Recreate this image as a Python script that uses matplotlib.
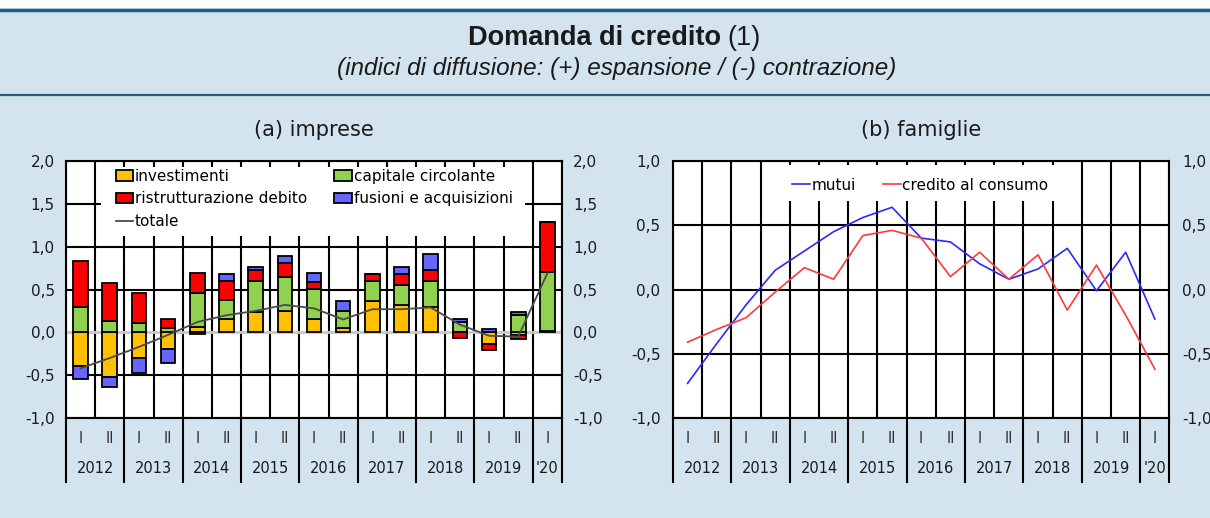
import numpy as np
import matplotlib.pyplot as plt
import matplotlib.transforms as mtransforms
from matplotlib.lines import Line2D
from matplotlib.patches import Patch, Rectangle
from matplotlib.ticker import FuncFormatter

plt.rcParams['font.family'] = ['DejaVu Sans']

semestri = ['I', 'II'] * 8 + ['I']
anni = ['2012', '2013', '2014', '2015', '2016', '2017', '2018', '2019', "'20"]

# (a) imprese
investimenti = [-0.39, -0.52, -0.30, -0.19, 0.06, 0.15, 0.24, 0.25, 0.15,
                0.05, 0.37, 0.32, 0.30, 0.00, -0.14, -0.03, 0.01]
capitale = [0.29, 0.13, 0.11, 0.05, 0.40, 0.23, 0.36, 0.40, 0.36,
            0.20, 0.23, 0.23, 0.30, 0.12, 0.00, 0.20, 0.70]
ristrutturazione = [0.54, 0.45, 0.35, 0.10, 0.23, 0.22, 0.13, 0.16, 0.08,
                    0.00, 0.08, 0.13, 0.13, -0.07, -0.07, -0.05, 0.58]
fusioni = [-0.15, -0.12, -0.18, -0.17, -0.02, 0.08, 0.03, 0.08, 0.10,
           0.12, 0.00, 0.08, 0.18, 0.04, 0.04, 0.04, 0.00]
totale = [-0.42, -0.30, -0.17, -0.03, 0.12, 0.20, 0.25, 0.32, 0.28,
          0.15, 0.27, 0.27, 0.29, 0.09, -0.04, -0.05, 0.69]

# (b) famiglie
mutui = [-0.73, -0.42, -0.12, 0.15, 0.30, 0.45, 0.56, 0.64, 0.40,
         0.37, 0.20, 0.08, 0.16, 0.32, -0.01, 0.29, -0.23]
consumo = [-0.41, -0.31, -0.22, -0.02, 0.17, 0.08, 0.42, 0.46, 0.40,
           0.10, 0.29, 0.08, 0.27, -0.16, 0.19, -0.20, -0.62]

sfondo = '#d3e4ee'
blu_linea = '#22607f'
virgola = FuncFormatter(lambda v, p: f'{v:.1f}'.replace('.', ','))

fig = plt.figure(figsize=(12.1, 5.18), dpi=100, facecolor=sfondo)
W, H = 1210, 518

# header
fig.add_artist(Rectangle((0, 1 - 8 / H), 1, 8 / H, transform=fig.transFigure,
                         color='white', lw=0))
fig.add_artist(Line2D([0, 1], [1 - 9.5 / H] * 2, transform=fig.transFigure,
                      color=blu_linea, lw=2.5))
fig.add_artist(Line2D([0, 1], [1 - 95 / H] * 2, transform=fig.transFigure,
                      color=blu_linea, lw=1.6))
t1 = fig.text(468 / W, 1 - 38 / H, 'Domanda di credito', fontsize=19.5,
              weight='bold', family='Liberation Sans', va='center', color='#1a1a1a')
fig.canvas.draw()
bb = t1.get_window_extent()
fig.text(bb.x1 / W + 6 / W, 1 - 38 / H, '(1)', fontsize=19.5,
         family='Liberation Sans', va='center', color='#1a1a1a')
fig.text(617 / W, 1 - 68 / H,
         '(indici di diffusione: (+) espansione / (-) contrazione)',
         fontsize=17.5, style='italic', family='Liberation Sans',
         ha='center', va='center', color='#1a1a1a')

x = np.arange(len(semestri))


def base_asse(ax, ylim, grigio_zero):
    ax.set_xlim(-0.5, len(semestri) - 0.5)
    ax.set_ylim(*ylim)
    ax.set_facecolor('white')
    yt = np.arange(ylim[0], ylim[1] + 0.01, 0.5)
    ax.set_yticks(yt)
    ax.set_xticks([])
    ax.yaxis.set_major_formatter(virgola)
    ax.tick_params(axis='y', length=0, labelsize=11, colors='#1a1a1a',
                   labelright=True, right=False)
    for b in np.arange(-0.5, len(semestri), 1):
        ax.axvline(b, color='black', lw=1.5, zorder=1)
    for yv in yt:
        if abs(yv) < 1e-9 and grigio_zero:
            ax.axhline(yv, color='#c8c8c8', lw=2, zorder=1)
        else:
            ax.axhline(yv, color='black', lw=1.5, zorder=1)
    for s in ax.spines.values():
        s.set_linewidth(1.5)
    trans = mtransforms.blended_transform_factory(ax.transData, ax.transAxes)
    for xi, s in zip(x, semestri):
        ax.text(xi, -0.08, s, transform=trans, ha='center', va='center',
                fontsize=10.5, color='#333333')
    centri = [i * 2 + 0.5 for i in range(8)] + [16]
    for c, a in zip(centri, anni):
        ax.text(c, -0.195, a, transform=trans, ha='center', va='center',
                fontsize=10.5, color='#1a1a1a')
    for b in list(np.arange(-0.5, 16, 2)) + [16.5]:
        ax.plot([b, b], [0, -0.25], transform=trans, color='black', lw=1.5,
                clip_on=False)


# (a) imprese
ax1 = fig.add_axes([66 / W, 1 - 418 / H, 496 / W, 257 / H])
base_asse(ax1, (-1.0, 2.0), True)
ax1.yaxis.set_tick_params(which='major', pad=8)
ax1.text(0.5, 1.12, '(a) imprese', transform=ax1.transAxes, ha='center',
         va='center', fontsize=15, color='#1a1a1a')

serie = [investimenti, capitale, ristrutturazione, fusioni]
colori = ['#ffc000', '#92d050', '#ff0000', '#6666ff']
nomi = ['investimenti', 'capitale circolante', 'ristrutturazione debito',
        'fusioni e acquisizioni']
pos = np.zeros(len(x))
neg = np.zeros(len(x))
for vals, col in zip(serie, colori):
    v = np.array(vals)
    base = np.where(v >= 0, pos, neg)
    ax1.bar(x, v, 0.5, bottom=base, color=col, edgecolor='black', lw=1.3,
            zorder=3)
    pos += np.clip(v, 0, None)
    neg += np.clip(v, None, 0)
ax1.plot(x, totale, color='#4a4a4a', lw=1.3, zorder=4)

ax1.add_patch(Rectangle((0.07, 0.71), 0.855, 0.265, transform=ax1.transAxes,
                        color='white', lw=0, zorder=2))
h = [Patch(facecolor=colori[0], edgecolor='black', lw=1.3),
     Patch(facecolor=colori[2], edgecolor='black', lw=1.3),
     Line2D([], [], color='#4a4a4a', lw=1.3),
     Patch(facecolor=colori[1], edgecolor='black', lw=1.3),
     Patch(facecolor=colori[3], edgecolor='black', lw=1.3)]
lab = [nomi[0], nomi[2], 'totale', nomi[1], nomi[3]]
leg = ax1.legend(h, lab, ncol=2, loc='upper left', bbox_to_anchor=(0.1, 0.97),
                 frameon=False, fontsize=11, handlelength=1.15,
                 handleheight=0.7, handletextpad=0.1, columnspacing=1.8,
                 labelspacing=0.5, borderpad=0, borderaxespad=0)
leg.set_zorder(5)

# (b) famiglie
ax2 = fig.add_axes([673 / W, 1 - 418 / H, 496.5 / W, 257 / H])
base_asse(ax2, (-1.0, 1.0), False)
ax2.yaxis.set_tick_params(which='major', pad=9)
ax2.text(0.5, 1.12, '(b) famiglie', transform=ax2.transAxes, ha='center',
         va='center', fontsize=15, color='#1a1a1a')
ax2.plot(x, mutui, color='#2a2aff', lw=1.2, zorder=4, label='mutui')
ax2.plot(x, consumo, color='#ff3a3a', lw=1.2, zorder=4,
         label='credito al consumo')
ax2.add_patch(Rectangle((0.185, 0.845), 0.61, 0.14, transform=ax2.transAxes,
                        color='white', lw=0, zorder=2))
leg2 = ax2.legend(ncol=2, loc='upper left', bbox_to_anchor=(0.24, 0.935),
                  frameon=False, fontsize=11, handlelength=1.15,
                  handletextpad=0.1, columnspacing=1.8, borderpad=0,
                  borderaxespad=0)
leg2.set_zorder(5)

fig.savefig('out.png', dpi=100, facecolor=sfondo)
